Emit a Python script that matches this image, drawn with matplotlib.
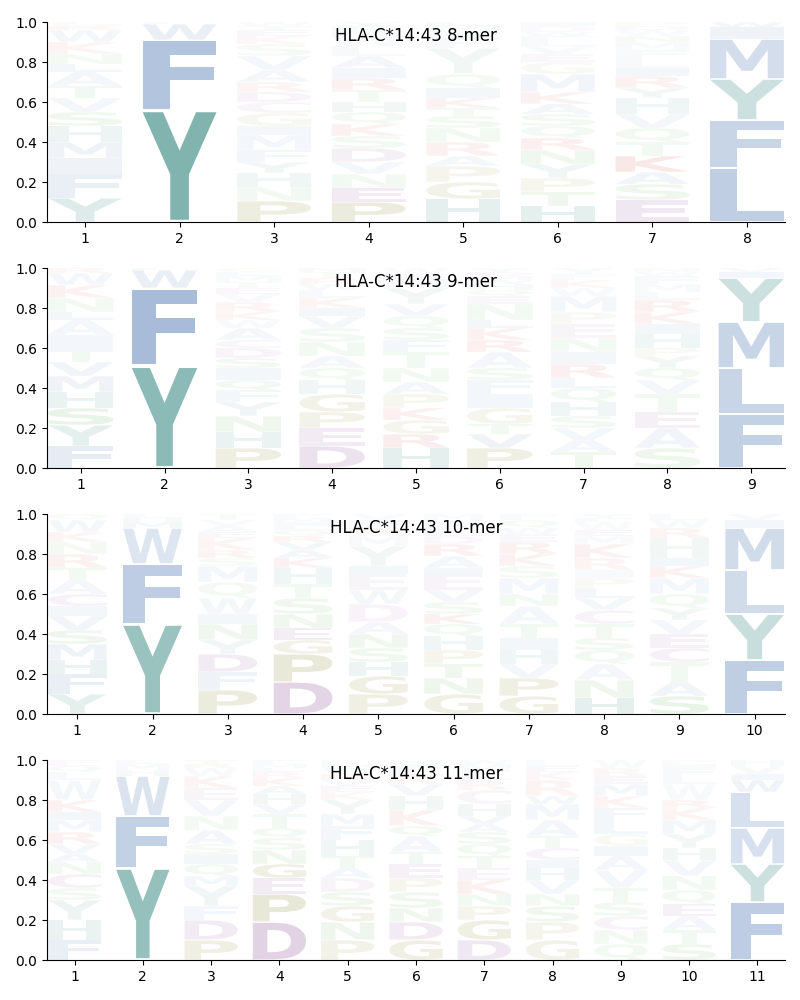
import matplotlib
matplotlib.use('Agg')
import matplotlib.pyplot as plt
from matplotlib.textpath import TextPath
from matplotlib.patches import PathPatch
from matplotlib.font_manager import FontProperties
from matplotlib.transforms import Affine2D

allele = "HLA-C*14:43"

# ---- 8-mer: letters bottom->top, heights, alphas per position ----
mer8_letters = ["YFIMHSVTALNKWRQE", "YFWL", "PNHYFMIGCDRAVSKETW",
                "PENVDSKQHTRIALWMFY", "HGPARNSTKIQYFVML",
                "HTPYNRQSAKMGEVLFWDI", "ESAKTQVHYRILFMNWDP", "LFYMIW"]
mer8_heights = [
    [.12, .12, .08, .08, .08, .07, .07, .06, .07, .04, .05, .06, .06, .02, .01, .01],
    [.56, .35, .08, .01],
    [.105, .07, .07, .055, .06, .075, .045, .065, .055, .05, .05, .06, .07, .06, .04, .03, .02, .02],
    [.10, .07, .07, .06, .07, .06, .06, .06, .05, .06, .06, .05, .06, .05, .05, .03, .02, .02],
    [.115, .085, .08, .05, .07, .07, .06, .04, .05, .05, .07, .13, .05, .04, .02, .02],
    [.08, .07, .07, .07, .07, .06, .06, .06, .05, .06, .09, .06, .04, .04, .03, .02, .02, .03, .02],
    [.11, .08, .06, .08, .07, .07, .07, .08, .05, .06, .04, .05, .04, .04, .03, .03, .02, .02],
    [.27, .24, .205, .20, .06, .025],
]
mer8_alphas = [
    [.13, .10, .08, .08, .07, .07, .06, .06, .06, .05, .05, .05, .05, .04, .03, .03],
    [.50, .39, .10, .03],
    [.14, .06, .06, .05, .05, .06, .05, .06, .05, .06, .05, .05, .06, .04, .04, .04, .03, .03],
    [.15, .10, .06, .06, .08, .06, .06, .06, .05, .05, .06, .05, .05, .04, .04, .03, .03, .03],
    [.10, .10, .08, .05, .06, .06, .06, .05, .06, .05, .05, .05, .04, .04, .03, .03],
    [.10, .07, .07, .06, .07, .07, .06, .06, .06, .06, .07, .05, .04, .04, .04, .03, .03, .03, .03],
    [.12, .08, .07, .10, .06, .06, .06, .06, .05, .06, .05, .04, .04, .04, .04, .03, .03, .03],
    [.32, .28, .20, .22, .08, .06],
]

# ---- 9-mer ----
mer9_letters = ["FYSHMVTIALNKWR", "YFWL", "PHNYFQISDCAWKRVETMLG",
                "DEPGHQANSVIKLWRTM", "HRGKPANTFSQVYMEW",
                "PVTGIFSARKLNEQHWMDY", "TAVSHQLRINEPMWKFY",
                "SAETVQYPHIKRLMFWN", "FLMYIV"]
mer9_heights = [
    [.11, .105, .085, .08, .08, .07, .06, .075, .075, .04, .07, .065, .06, .025],
    [.51, .39, .09, .01],
    [.10, .08, .08, .07, .06, .05, .06, .05, .05, .04, .06, .04, .04, .05, .04, .03, .03, .03, .02, .02],
    [.11, .09, .08, .09, .07, .06, .06, .07, .07, .06, .04, .05, .04, .03, .03, .03, .02],
    [.10, .07, .07, .06, .07, .06, .07, .08, .06, .06, .06, .06, .08, .04, .03, .03],
    [.10, .07, .05, .08, .07, .07, .06, .08, .06, .06, .04, .08, .04, .03, .03, .02, .02, .02, .02],
    [.08, .06, .06, .06, .07, .07, .05, .07, .06, .07, .07, .06, .08, .04, .04, .03, .03],
    [.10, .10, .08, .09, .07, .06, .06, .04, .07, .05, .06, .06, .04, .04, .04, .02, .02],
    [.27, .23, .23, .22, .03, .02],
]
mer9_alphas = [
    [.12, .10, .10, .08, .08, .07, .06, .06, .06, .05, .06, .06, .05, .04],
    [.46, .44, .10, .03],
    [.13, .08, .08, .06, .05, .06, .05, .06, .06, .05, .05, .04, .05, .05, .04, .04, .03, .03, .03, .03],
    [.15, .10, .10, .10, .06, .06, .06, .06, .06, .05, .05, .05, .04, .04, .04, .03, .03],
    [.10, .08, .08, .07, .07, .06, .06, .06, .05, .06, .05, .05, .05, .04, .04, .03],
    [.12, .08, .06, .08, .06, .05, .06, .06, .07, .06, .05, .06, .04, .04, .04, .03, .03, .03, .03],
    [.07, .06, .06, .06, .06, .06, .05, .07, .05, .06, .05, .05, .05, .04, .04, .03, .03],
    [.08, .07, .08, .06, .06, .06, .05, .05, .06, .05, .06, .06, .04, .04, .04, .03, .03],
    [.30, .28, .28, .20, .06, .04],
]

# ---- 10-mer ----
mer10_letters = ["YFHMSVICATRNKWQ", "YFWMHL", "PFDYNIWQMSRKEAVT",
                 "DPGENSTHKAVRQLIMF", "PGHSNADWEIYMRFV",
                 "GNTPHQKSVEIARDLFWM", "GPVHITANMSKREWQF",
                 "HNAQSTCVLPIRKMEWFY", "SATCEVYQMKIHRWL", "FYLMIV"]
mer10_heights = [
    [.10, .10, .07, .08, .07, .07, .05, .06, .07, .06, .07, .06, .05, .06, .03],
    [.45, .30, .18, .03, .02, .02],
    [.12, .09, .09, .07, .08, .05, .08, .08, .08, .04, .04, .06, .03, .03, .03, .03],
    [.16, .14, .07, .06, .07, .08, .07, .08, .05, .04, .04, .03, .03, .02, .02, .02, .02],
    [.10, .09, .07, .07, .07, .06, .09, .07, .08, .04, .10, .05, .04, .04, .03],
    [.10, .08, .07, .07, .07, .06, .05, .06, .06, .08, .03, .06, .06, .04, .03, .03, .02, .03],
    [.09, .09, .07, .07, .06, .07, .09, .06, .08, .06, .06, .06, .04, .03, .04, .03],
    [.08, .09, .08, .07, .06, .07, .07, .06, .05, .05, .04, .06, .07, .04, .03, .04, .02, .02],
    [.09, .07, .10, .07, .07, .07, .06, .07, .08, .06, .04, .10, .05, .04, .03],
    [.27, .23, .22, .21, .04, .03],
]
mer10_alphas = [
    [.10, .10, .08, .08, .08, .07, .05, .07, .06, .06, .06, .05, .05, .05, .03],
    [.40, .33, .17, .05, .04, .03],
    [.15, .08, .10, .06, .07, .05, .05, .05, .06, .04, .05, .05, .04, .04, .03, .03],
    [.22, .17, .10, .09, .07, .07, .06, .06, .06, .05, .05, .05, .04, .04, .03, .03, .03],
    [.12, .12, .07, .07, .07, .06, .06, .05, .05, .05, .05, .04, .04, .04, .03],
    [.12, .08, .07, .08, .06, .06, .07, .06, .06, .06, .05, .05, .06, .04, .04, .03, .03, .03],
    [.12, .12, .06, .06, .05, .06, .06, .06, .06, .05, .06, .06, .04, .04, .04, .03],
    [.10, .08, .06, .06, .06, .06, .06, .05, .05, .05, .04, .05, .06, .04, .04, .03, .03, .03],
    [.10, .07, .06, .07, .07, .06, .05, .06, .06, .06, .05, .05, .05, .04, .03],
    [.32, .22, .23, .23, .06, .04],
]

# ---- 11-mer ----
mer11_letters = ["FHYSCNAVRMIKWLQE", "YFWHML", "PDFYMQISANVEKWRT",
                 "DPEGNSQTVHAKRLMF", "PNGSDATHFMYKEVRWL",
                 "GDNSPETAQKHVRLIM", "DGPNKETQSAVHCRLMW",
                 "GPSNVHICTAMWRKEL", "QNCSTVAIGLFKMERW",
                 "STAEQNVHYMKRWLFIP", "FYMLWIVH"]
mer11_heights = [
    [.10, .10, .10, .06, .07, .06, .04, .05, .06, .06, .04, .06, .10, .04, .03, .03],
    [.46, .26, .20, .03, .03, .02],
    [.10, .10, .07, .10, .05, .06, .05, .05, .07, .07, .08, .06, .06, .04, .02, .02],
    [.19, .14, .08, .07, .07, .06, .05, .07, .05, .05, .04, .04, .03, .02, .02, .02],
    [.10, .09, .08, .07, .07, .05, .06, .08, .07, .06, .07, .04, .03, .03, .03, .04, .03],
    [.10, .09, .07, .08, .07, .07, .06, .08, .05, .08, .07, .06, .04, .04, .02, .02],
    [.10, .10, .07, .06, .07, .06, .06, .06, .06, .04, .04, .06, .07, .05, .04, .04, .02],
    [.10, .09, .08, .06, .07, .06, .04, .06, .06, .08, .08, .04, .08, .04, .03, .03],
    [.08, .07, .07, .07, .07, .09, .07, .05, .06, .07, .06, .06, .06, .04, .04, .04],
    [.08, .07, .07, .06, .07, .07, .08, .06, .07, .07, .06, .04, .08, .04, .04, .02, .02],
    [.29, .19, .18, .18, .06, .03, .04, .03],
]
mer11_alphas = [
    [.10, .08, .07, .06, .07, .06, .05, .05, .06, .05, .05, .06, .05, .04, .04, .03],
    [.42, .30, .18, .04, .04, .03],
    [.12, .10, .06, .06, .06, .06, .05, .05, .06, .05, .06, .05, .05, .04, .03, .03],
    [.23, .18, .10, .12, .07, .06, .06, .06, .05, .05, .05, .05, .04, .03, .03, .03],
    [.10, .08, .10, .07, .06, .06, .06, .06, .05, .05, .05, .04, .04, .04, .04, .03, .03],
    [.12, .10, .07, .07, .07, .07, .06, .06, .06, .06, .05, .05, .04, .04, .03, .03],
    [.12, .12, .08, .06, .07, .06, .06, .06, .06, .05, .05, .05, .05, .04, .04, .03, .03],
    [.10, .08, .07, .06, .06, .06, .05, .06, .05, .06, .06, .05, .05, .04, .04, .03],
    [.06, .06, .06, .06, .06, .06, .06, .05, .05, .05, .05, .05, .05, .04, .04, .03],
    [.08, .06, .06, .07, .06, .06, .06, .05, .05, .05, .05, .05, .04, .04, .04, .03, .03],
    [.33, .20, .20, .20, .08, .06, .04, .03],
]

panels = [(8, mer8_letters, mer8_heights, mer8_alphas),
          (9, mer9_letters, mer9_heights, mer9_alphas),
          (10, mer10_letters, mer10_heights, mer10_alphas),
          (11, mer11_letters, mer11_heights, mer11_alphas)]

# residue colour groups
group_colors = {
    'AVLIMFW': '#3a68aa',
    'YH': '#046a60',
    'NQST': '#289628',
    'KR': '#c81e1e',
    'DEC': '#80408c',
    'PG': '#808028',
}
aa_color = {}
for k, v in group_colors.items():
    for ch in k:
        aa_color[ch] = v

fp = FontProperties(family='DejaVu Sans', weight='bold')
_cache = {}


def glyph(c):
    if c not in _cache:
        p = TextPath((0, 0), c, size=1, prop=fp)
        _cache[c] = (p, p.get_extents())
    return _cache[c]


def draw_letter(ax, c, x, y0, h, color, alpha, width=0.78, vpad=0.04):
    p, ext = glyph(c)
    gh = h * (1 - vpad)
    gy = y0 + h * vpad / 2
    t = (Affine2D().translate(-ext.x0, -ext.y0)
         .scale(width / ext.width, gh / ext.height)
         .translate(x - width / 2, gy))
    ax.add_patch(PathPatch(t.transform_path(p), facecolor=color,
                           edgecolor='none', alpha=alpha, lw=0))


fig = plt.figure(figsize=(8, 10), dpi=100)
bottoms = [0.778, 0.532, 0.286, 0.04]
for (L, letters, heights, alphas), b in zip(panels, bottoms):
    ax = fig.add_axes([0.059, b, 0.922, 0.2])
    for i in range(L):
        pos = i + 1
        y = 0.0
        for c, h, a in zip(letters[i], heights[i], alphas[i]):
            draw_letter(ax, c, pos, y, h, aa_color[c], a)
            y += h
    ax.set_xlim(0.6, L + 0.4)
    ax.set_ylim(0, 1)
    ax.set_xticks(range(1, L + 1))
    ax.set_yticks([0, 0.2, 0.4, 0.6, 0.8, 1.0])
    ax.set_yticklabels(['0.0', '0.2', '0.4', '0.6', '0.8', '1.0'])
    ax.spines['top'].set_visible(False)
    ax.spines['right'].set_visible(False)
    ax.text(0.5, 0.93, f"{allele} {L}-mer", transform=ax.transAxes,
            ha='center', va='center', fontsize=12, zorder=10)

fig.savefig('out.png', dpi=100)
